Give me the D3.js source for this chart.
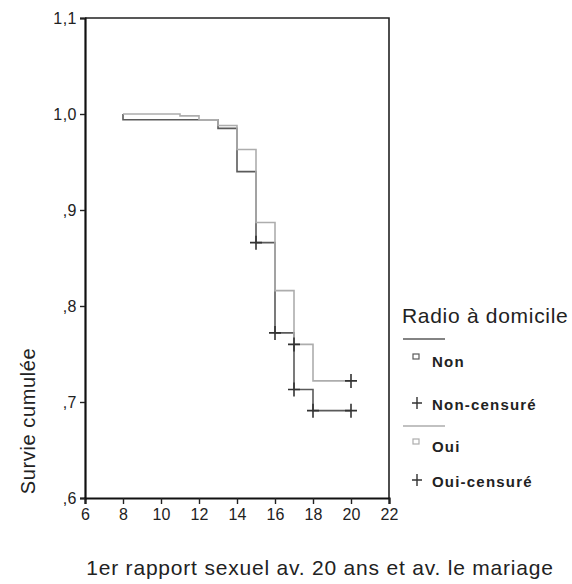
<!DOCTYPE html>
<meta charset="utf-8">
<style>
  body { margin: 0; background: #fff; }
  text { font-family: "Liberation Sans", Arial, Helvetica, sans-serif; fill: #222; }
</style>
<script src="https://d3js.org/d3.v7.min.js"></script>
<body>
<div id="survie"></div>
</body>
<script>
// data
var nonTime = [8, 8, 13, 14, 15, 16, 17, 18, 20];
var nonSurv = [1.000, 0.994, 0.985, 0.940, 0.866, 0.772, 0.713, 0.691, 0.691];
var ouiTime = [8, 11, 12, 13, 14, 15, 16, 17, 18, 20];
var ouiSurv = [1.000, 0.998, 0.994, 0.988, 0.963, 0.887, 0.816, 0.760, 0.722, 0.722];

// censored cases (+ marks)
var nonCensTime = [15, 16, 17, 18, 20];
var nonCensSurv = [0.866, 0.772, 0.713, 0.691, 0.691];
var ouiCensTime = [17, 20];
var ouiCensSurv = [0.760, 0.722];

var xTicks = [6, 8, 10, 12, 14, 16, 18, 20, 22];
var yTicks = [0.6, 0.7, 0.8, 0.9, 1.0, 1.1];
var yTickLabels = [",6", ",7", ",8", ",9", "1,0", "1,1"];

var legendTitle = "Radio à domicile";
var legendItems = ["Non", "Non-censuré", "Oui", "Oui-censuré"];

var darkColor = "#5a5a5a",
    lightColor = "#adadad";

var margin = {top: 18, right: 183, bottom: 86, left: 85},
    width = 572 - margin.left - margin.right,
    height = 584 - margin.top - margin.bottom;

var svg = d3.select("#survie")
  .append("svg")
    .attr("width", 572)
    .attr("height", 584);

var g = svg.append("g")
    .attr("transform", "translate(" + margin.left + "," + margin.top + ")");

var x = d3.scaleLinear().domain([6, 22]).range([0, width]);
var y = d3.scaleLinear().domain([0.6, 1.1]).range([height, 0]);

// frame top + right
g.append("path")
    .attr("d", "M0,0H" + width + "V" + height)
    .attr("fill", "none")
    .attr("stroke", "#222")
    .attr("stroke-width", 1.6);

// axes
var xAxis = g.append("g")
    .attr("transform", "translate(0," + height + ")")
    .call(d3.axisBottom(x).tickValues(xTicks).tickSize(6).tickPadding(5)
      .tickFormat(d3.format("d")));

var yAxis = g.append("g")
    .call(d3.axisLeft(y).tickValues(yTicks).tickSize(5).tickPadding(3)
      .tickFormat(function(d, i) { return yTickLabels[i]; }));

[xAxis, yAxis].forEach(function(a) {
  a.select(".domain").attr("stroke", "#111").attr("stroke-width", 2.2);
  a.selectAll(".tick line").attr("stroke", "#222").attr("stroke-width", 1.4);
  a.selectAll(".tick text")
    .style("font-family", "'Liberation Sans', Arial, sans-serif")
    .style("font-size", "16px")
    .attr("fill", "#222");
});
yAxis.selectAll(".tick text").style("letter-spacing", "0.5px");

// step curves
var step = d3.line()
    .x(function(d) { return x(d[0]); })
    .y(function(d) { return y(d[1]); })
    .curve(d3.curveStepAfter);

g.append("path")
    .datum(d3.zip(nonTime, nonSurv))
    .attr("d", step)
    .attr("fill", "none")
    .attr("stroke", darkColor)
    .attr("stroke-width", 1.6);

g.append("path")
    .datum(d3.zip(ouiTime, ouiSurv))
    .attr("d", step)
    .attr("fill", "none")
    .attr("stroke", lightColor)
    .attr("stroke-width", 1.6);

// censor marks
function crosses(times, surv) {
  g.append("g").selectAll("path")
    .data(d3.zip(times, surv))
    .enter()
    .append("path")
      .attr("d", "M-6,0H6M0,-7V7")
      .attr("transform", function(d) { return "translate(" + x(d[0]) + "," + y(d[1]) + ")"; })
      .attr("stroke", "#333")
      .attr("stroke-width", 1.6);
}
crosses(nonCensTime, nonCensSurv);
crosses(ouiCensTime, ouiCensSurv);

// axis titles
svg.append("text")
    .attr("transform", "translate(35,421) rotate(-90)")
    .attr("text-anchor", "middle")
    .style("font-size", "20px")
    .style("letter-spacing", "0.6px")
    .text("Survie cumulée");

svg.append("text")
    .attr("x", 320)
    .attr("y", 575)
    .attr("text-anchor", "middle")
    .style("font-size", "21px")
    .style("letter-spacing", "0.8px")
    .text("1er rapport sexuel av. 20 ans et av. le mariage");

// legend
var leg = svg.append("g");
leg.append("text")
    .attr("x", 402)
    .attr("y", 323)
    .style("font-size", "21px")
    .style("letter-spacing", "0.7px")
    .text(legendTitle);

var rowY = [367, 410, 452, 487];
var lineY = [339, 426];
var legColors = [darkColor, lightColor];

lineY.forEach(function(ly, i) {
  leg.append("line")
      .attr("x1", 403).attr("x2", 445)
      .attr("y1", ly).attr("y2", ly)
      .attr("stroke", legColors[i])
      .attr("stroke-width", 1.4);
});

legendItems.forEach(function(name, i) {
  var cy = rowY[i] - 9;
  if (i % 2 === 0) {
    leg.append("rect")
        .attr("x", 413).attr("y", cy - 4)
        .attr("width", 6).attr("height", 5)
        .attr("fill", "none")
        .attr("stroke", legColors[i / 2])
        .attr("stroke-width", 1.2);
  } else {
    leg.append("path")
        .attr("d", "M-5,0H5M0,-6V6")
        .attr("transform", "translate(417," + (cy + 2) + ")")
        .attr("stroke", "#333")
        .attr("stroke-width", 1.4);
  }
  leg.append("text")
      .attr("x", 432)
      .attr("y", rowY[i])
      .style("font-size", "15px")
      .style("font-weight", "bold")
      .style("letter-spacing", "1.2px")
      .attr("fill", "#333")
      .text(name);
});
</script>
